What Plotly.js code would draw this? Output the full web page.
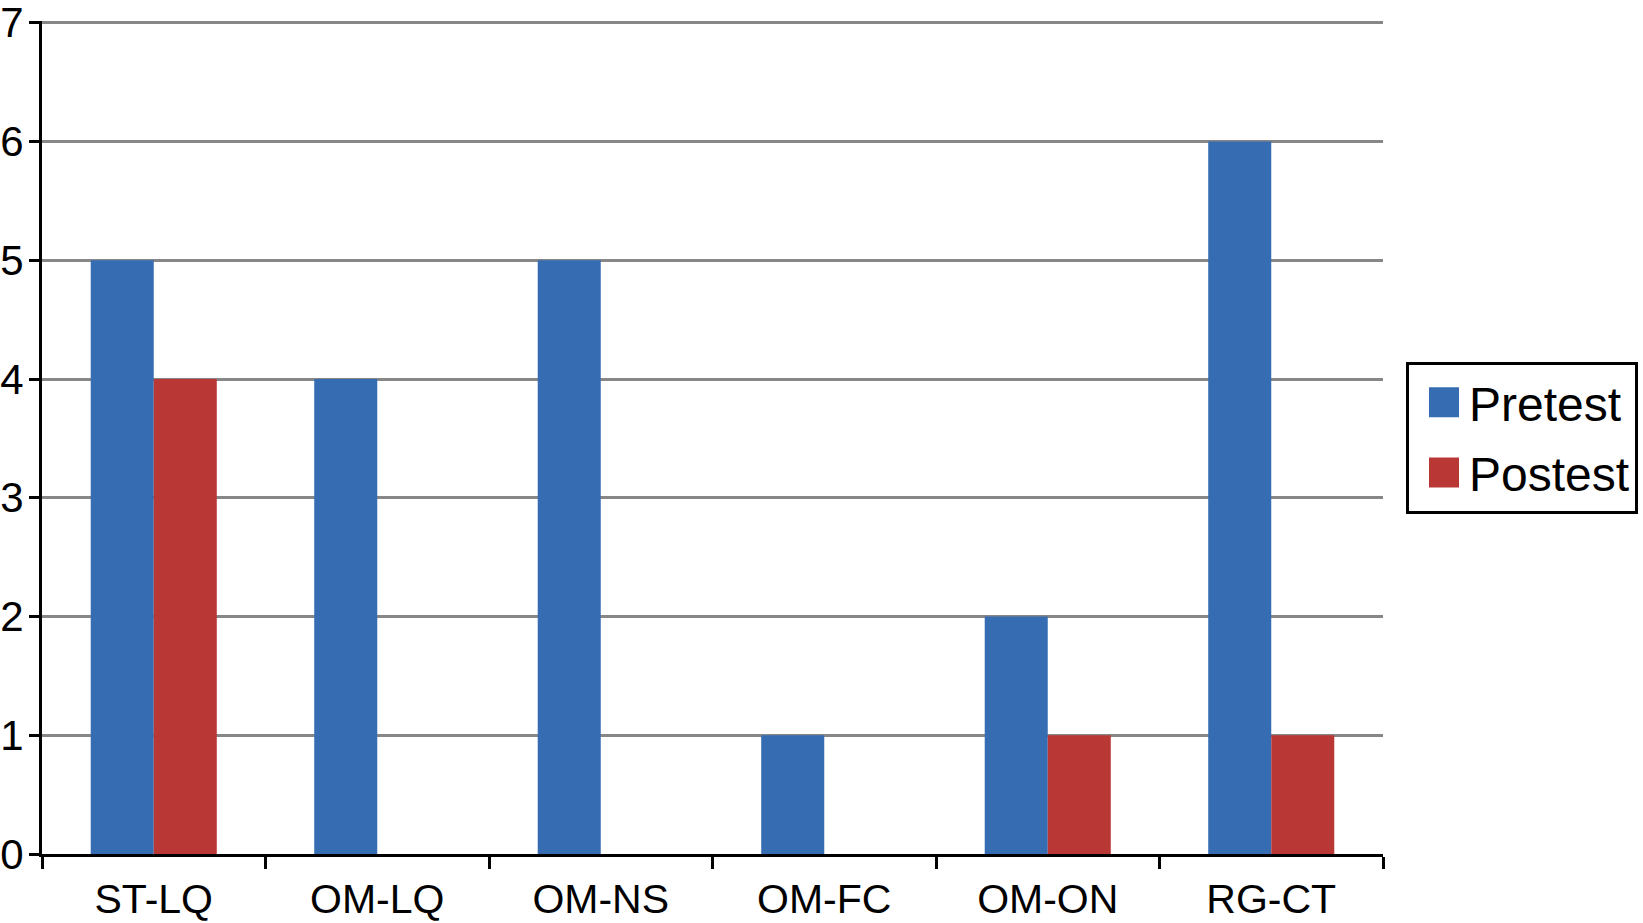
<!DOCTYPE html>
<html>
<head>
<meta charset="utf-8">
<script src="https://cdn.plot.ly/plotly-3.0.1.min.js"></script>
<style>
html,body{margin:0;padding:0;background:#fff;}
#chart{width:1643px;height:923px;}
</style>
</head>
<body>
<div id="chart"></div>
<script>
const categories = ["ST-LQ", "OM-LQ", "OM-NS", "OM-FC", "OM-ON", "RG-CT"];
const pretest = [5, 4, 5, 1, 2, 6];
const postest = [4, 0, 0, 0, 1, 1];
const yTicks = [0, 1, 2, 3, 4, 5, 6, 7];

const blue = "rgb(54,108,178)";
const red = "rgb(185,55,52)";

const traces = [
  {type: "bar", name: "Pretest", x: categories, y: pretest, marker: {color: blue}, legendgroup: "a"},
  {type: "bar", name: "Postest", x: categories, y: postest, marker: {color: red}, legendgroup: "b"}
];

const layout = {
  width: 1643, height: 923,
  margin: {l: 42, r: 260, t: 21, b: 69, pad: 0, autoexpand: false},
  paper_bgcolor: "#fff", plot_bgcolor: "#fff",
  font: {family: "Liberation Sans, Arial, sans-serif", color: "#000", size: 40},
  barmode: "group", bargap: 0.436, bargroupgap: 0,
  showlegend: true,
  legend: {
    x: 1.01715, xanchor: "left", y: 0.5, yanchor: "middle",
    bordercolor: "#000", borderwidth: 3, bgcolor: "#fff",
    font: {size: 48, color: "#000"}, tracegroupgap: 5, itemwidth: 50, itemclick: false
  },
  xaxis: {
    type: "category", range: [-0.5, 5.5], tickson: "boundaries",
    ticks: "outside", ticklen: 12, tickwidth: 2.5, tickcolor: "#000",
    showline: true, linecolor: "#000", linewidth: 3, showgrid: false,
    tickfont: {size: 41}, ticklabelstandoff: 7, zeroline: false, fixedrange: true
  },
  yaxis: {
    range: [0, 7.015], tickvals: yTicks, ticktext: yTicks.map(String),
    ticks: "outside", ticklen: 10, tickwidth: 2.5, tickcolor: "#000",
    showline: true, linecolor: "#000", linewidth: 3,
    showgrid: true, gridcolor: "#878787", gridwidth: 2.5,
    zeroline: false, tickfont: {size: 42}, ticklabelstandoff: -3,
    ticklabeloverflow: "allow", fixedrange: true
  }
};

Plotly.newPlot("chart", traces, layout, {displayModeBar: false}).then(function (gd) {
  // enlarge the legend colour swatches to match the reference's big squares
  gd.querySelectorAll(".legend .legendpoints path").forEach(function (p) {
    p.setAttribute("d", "M20,15H-10V-15H20Z");
  });
});
</script>
</body>
</html>
